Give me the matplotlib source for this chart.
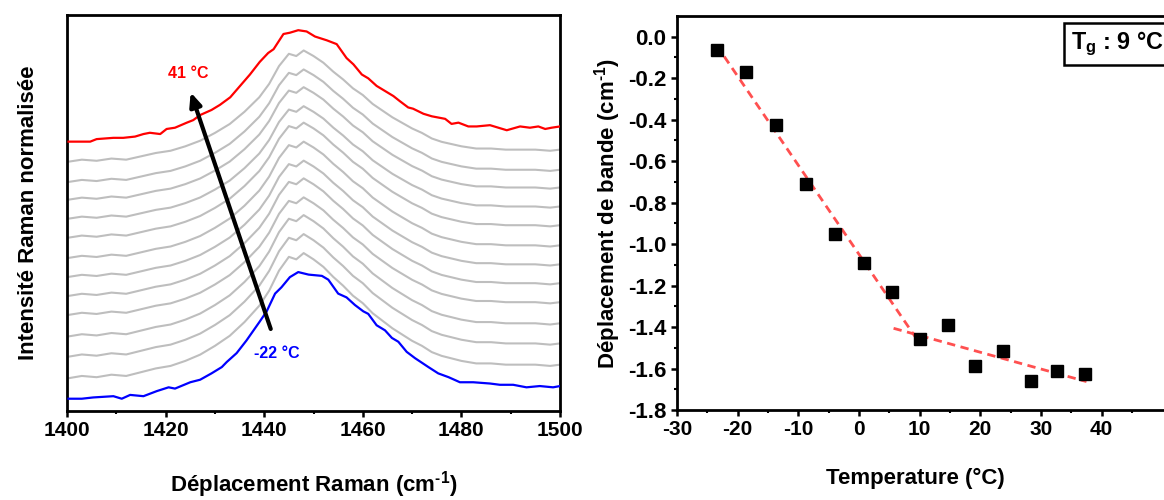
import numpy as np
import matplotlib
matplotlib.use("Agg")
import matplotlib.pyplot as plt

plt.rcParams['font.family'] = ['Liberation Sans', 'DejaVu Sans']
plt.rcParams['font.weight'] = 'bold'
plt.rcParams['axes.unicode_minus'] = False
plt.rcParams['mathtext.fontset'] = 'custom'
plt.rcParams['mathtext.rm'] = 'Liberation Sans:bold'
plt.rcParams['mathtext.bf'] = 'Liberation Sans:bold'
plt.rcParams['mathtext.default'] = 'bf'

# ---- left panel: stacked Raman spectra ----
blue_x = [1400.3, 1403.0, 1405.3, 1409.4, 1411.1, 1412.8, 1415.5, 1418.2, 1420.6, 1421.9,
          1425.0, 1427.0, 1429.3, 1431.4, 1432.4, 1434.4, 1436.4, 1439.1, 1440.5, 1442.2,
          1443.5, 1445.2, 1446.9, 1449.0, 1451.7, 1453.0, 1455.0, 1456.7, 1458.4, 1460.1,
          1461.1, 1462.8, 1464.5, 1465.9, 1467.2, 1468.9, 1470.6, 1473.3, 1475.3, 1477.4,
          1479.7, 1482.4, 1485.8, 1487.8, 1490.5, 1493.2, 1495.9, 1498.6, 1500.0]
blue_y = [0.01, 0.01, 0.02, 0.03, 0.01, 0.04, 0.03, 0.07, 0.10, 0.09,
          0.14, 0.16, 0.21, 0.26, 0.30, 0.37, 0.47, 0.62, 0.70, 0.84,
          0.89, 0.97, 1.01, 0.99, 0.98, 0.95, 0.84, 0.81, 0.75, 0.70,
          0.68, 0.59, 0.55, 0.49, 0.46, 0.38, 0.33, 0.26, 0.21, 0.18,
          0.14, 0.14, 0.13, 0.12, 0.12, 0.10, 0.11, 0.10, 0.11]

red_x = [1400.3, 1403.0, 1404.7, 1406.0, 1409.4, 1411.4, 1413.8, 1415.5, 1416.8, 1418.9,
         1420.2, 1421.9, 1424.3, 1425.6, 1427.0, 1429.3, 1431.0, 1433.1, 1435.1, 1437.1,
         1439.1, 1440.8, 1441.9, 1443.9, 1445.2, 1446.9, 1448.6, 1450.3, 1452.7, 1454.7,
         1456.7, 1458.1, 1459.8, 1461.1, 1462.8, 1464.5, 1466.2, 1467.5, 1469.2, 1470.2,
         1472.3, 1474.0, 1476.7, 1478.0, 1479.4, 1481.4, 1483.1, 1485.8, 1487.5, 1489.2,
         1491.9, 1493.9, 1495.6, 1497.0, 1498.3, 1500.0]
red_y = [0.01, 0.01, 0.01, 0.03, 0.04, 0.04, 0.05, 0.07, 0.08, 0.07,
         0.11, 0.12, 0.16, 0.18, 0.22, 0.26, 0.30, 0.36, 0.45, 0.54,
         0.64, 0.71, 0.74, 0.86, 0.87, 0.89, 0.88, 0.84, 0.81, 0.78,
         0.67, 0.62, 0.54, 0.51, 0.45, 0.41, 0.37, 0.33, 0.28, 0.27,
         0.23, 0.21, 0.19, 0.15, 0.16, 0.13, 0.13, 0.14, 0.12, 0.10,
         0.13, 0.12, 0.13, 0.11, 0.12, 0.13]

gray_x = [1400, 1403, 1406, 1409, 1412, 1415, 1418, 1421, 1424, 1427, 1430, 1433, 1436,
          1439, 1441, 1443, 1445, 1446.5, 1448, 1450, 1452, 1454, 1456, 1458, 1460, 1462,
          1464, 1466, 1468, 1470, 1472, 1474, 1476, 1478, 1480, 1483, 1486, 1489, 1492,
          1495, 1498, 1500]
gray_y = [0.00, 0.02, 0.01, 0.03, 0.02, 0.05, 0.08, 0.10, 0.14, 0.19, 0.26, 0.34, 0.45,
          0.58, 0.70, 0.86, 0.97, 0.95, 1.00, 0.95, 0.89, 0.81, 0.74, 0.66, 0.60, 0.52,
          0.46, 0.40, 0.35, 0.30, 0.26, 0.21, 0.18, 0.16, 0.14, 0.12, 0.12, 0.11, 0.11,
          0.11, 0.10, 0.11]
# baselines (bottom to top) and peak heights of the 12 intermediate spectra
gray_offsets = [0.17, 0.34, 0.50, 0.67, 0.82, 0.97, 1.12, 1.28, 1.43, 1.58, 1.72, 1.88]
gray_heights = [0.99, 0.97, 0.96, 0.93, 0.93, 0.92, 0.92, 0.91, 0.89, 0.89, 0.89, 0.88]
red_offset = 2.03

# ---- right panel: band shift vs temperature ----
temp = [-23.4, -18.6, -13.6, -8.8, -4.0, 0.8, 5.5, 10.1, 14.6, 19.1, 23.7, 28.3, 32.7, 37.3]
shift = [-0.066, -0.171, -0.428, -0.710, -0.950, -1.093, -1.230, -1.457, -1.388,
         -1.586, -1.515, -1.659, -1.610, -1.626]
fit1_x = [-23.5, 9.8]
fit1_y = [-0.04, -1.47]
fit2_x = [5.7, 37.5]
fit2_y = [-1.406, -1.663]
y_ticks = [-1.8, -1.6, -1.4, -1.2, -1.0, -0.8, -0.6, -0.4, -0.2, 0.0]

fig = plt.figure(figsize=(11.64, 5.0), dpi=100)
ax1 = fig.add_axes([0.0576, 0.178, 0.4235, 0.792])
ax2 = fig.add_axes([0.5816, 0.18, 0.4493, 0.788])

ax1.plot(blue_x, blue_y, color='#0000ff', lw=1.6, zorder=3)
for off, h in zip(gray_offsets, gray_heights):
    ax1.plot(gray_x, off + h * np.array(gray_y), color='#bebebe', lw=1.5)
ax1.plot(red_x, red_offset + np.array(red_y), color='#ff0000', lw=1.6, zorder=3)

ax1.annotate('', xy=(1424.9, 2.45), xytext=(1441.5, 0.54),
             arrowprops=dict(arrowstyle='-|>,head_width=0.35,head_length=0.8',
                             color='black', lw=3), zorder=5)
ax1.text(1424.6, 2.58, '41 °C', color='#ff0000', fontsize=11.5, fontweight='bold',
         ha='center', va='center')
ax1.text(1442.5, 0.37, '-22 °C', color='#0000ff', fontsize=11.5, fontweight='bold',
         ha='center', va='center')

ax1.set_xlim(1400, 1500)
ax1.set_ylim(-0.087, 3.04)
ax1.set_xticks([1400, 1420, 1440, 1460, 1480, 1500])
ax1.set_xticks([1410, 1430, 1450, 1470, 1490], minor=True)
ax1.set_yticks([])
ax1.set_xlabel(r'Déplacement Raman (cm$^{\text{-1}}$)', fontsize=16, fontweight='bold', labelpad=21)
ax1.set_ylabel('Intensité Raman normalisée', fontsize=16, fontweight='bold', labelpad=20)

ax2.plot(fit1_x, fit1_y, color='#ff5050', lw=2, ls=(0, (3, 2)))
ax2.plot(fit2_x, fit2_y, color='#ff5050', lw=2, ls=(0, (3, 2)))
ax2.plot(temp, shift, 's', color='black', markersize=8, zorder=4)
ax2.set_xlim(-30, 56.2)
ax2.set_ylim(-1.8, 0.1)
ax2.set_xticks(np.arange(-30, 41, 10))
ax2.set_xticks(np.arange(-25, 46, 10), minor=True)
ax2.set_yticks(y_ticks)
ax2.set_yticks(np.round(np.arange(-1.7, 0.1, 0.2), 1), minor=True)
ax2.yaxis.set_major_formatter(matplotlib.ticker.FormatStrFormatter('%.1f'))
ax2.set_xlabel('Temperature (°C)', fontsize=16, fontweight='bold')
ax2.xaxis.set_label_coords(0.455, -0.173, transform=ax2.transAxes)
ax2.xaxis.label.set_va('center')
ax2.set_ylabel(r'Déplacement de bande (cm$^{\text{-1}}$)', fontsize=16, fontweight='bold', labelpad=4)

for ax in (ax1, ax2):
    for s in ax.spines.values():
        s.set_linewidth(2)
    ax.tick_params(which='major', direction='out', length=4, width=1.8, labelsize=15)
    ax.tick_params(which='minor', direction='out', length=2.5, width=1.5)
ax2.tick_params(axis='y', labelsize=16)

fig.text(1071 / 1164, 1 - 44 / 500, 'T$_g$ : 9 °C', fontsize=16.8, fontweight='bold',
         ha='left', va='center',
         bbox=dict(boxstyle='square,pad=0.3', fc='white', ec='black', lw=1.8))

fig.savefig('out.png', dpi=100)
